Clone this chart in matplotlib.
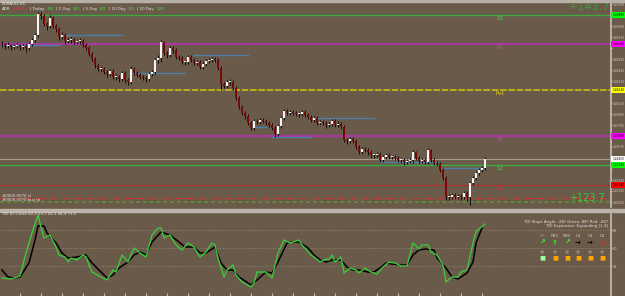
import numpy as np
import matplotlib.pyplot as plt
from matplotlib.patches import Rectangle
import matplotlib.transforms as mtransforms

# EURAUD H1 candles, prices in 0.0001 units
opens = [14661, 14660, 14658, 14659, 14657, 14658, 14659, 14657, 14658, 14656,
         14660, 14664, 14669, 14690, 14688, 14680, 14678, 14686, 14678, 14675,
         14667, 14669, 14663, 14664, 14664, 14662, 14663, 14663, 14659, 14656,
         14650, 14645, 14639, 14635, 14635, 14632, 14630, 14633, 14627, 14627,
         14625, 14631, 14624, 14622, 14635, 14631, 14629, 14627, 14626, 14625,
         14630, 14632, 14644, 14646, 14662, 14651, 14649, 14656, 14654, 14647,
         14646, 14642, 14642, 14647, 14644, 14641, 14642, 14637, 14640, 14643,
         14644, 14645, 14644, 14636, 14620, 14618, 14622, 14622, 14616, 14606,
         14597, 14591, 14588, 14581, 14576, 14583, 14582, 14584, 14583, 14581,
         14579, 14576, 14570, 14578, 14586, 14593, 14591, 14592, 14591, 14590,
         14590, 14592, 14589, 14587, 14584, 14586, 14581, 14582, 14581, 14579,
         14580, 14583, 14579, 14580, 14577, 14564, 14563, 14565, 14563, 14557,
         14552, 14555, 14554, 14552, 14549, 14549, 14550, 14544, 14547, 14549,
         14547, 14547, 14546, 14544, 14544, 14542, 14543, 14544, 14552, 14546,
         14543, 14544, 14542, 14554, 14544, 14541, 14540, 14534, 14526, 14507,
         14507, 14509, 14507, 14508, 14507, 14511, 14507, 14521, 14526, 14531,
         14534, 14536]
highs = [14663, 14661, 14662, 14660, 14660, 14661, 14660, 14660, 14660, 14662,
         14666, 14671, 14692, 14692, 14690, 14682, 14689, 14688, 14680, 14677,
         14672, 14671, 14666, 14667, 14666, 14665, 14666, 14665, 14661, 14658,
         14652, 14647, 14641, 14638, 14637, 14634, 14635, 14635, 14630, 14629,
         14633, 14633, 14626, 14638, 14637, 14633, 14631, 14629, 14628, 14632,
         14634, 14646, 14649, 14664, 14663, 14653, 14658, 14658, 14656, 14649,
         14648, 14644, 14649, 14649, 14646, 14644, 14644, 14642, 14645, 14646,
         14647, 14647, 14646, 14638, 14622, 14624, 14625, 14624, 14618, 14608,
         14599, 14593, 14590, 14583, 14585, 14585, 14586, 14586, 14585, 14583,
         14581, 14578, 14580, 14588, 14595, 14595, 14594, 14594, 14593, 14592,
         14594, 14594, 14591, 14589, 14588, 14588, 14584, 14584, 14583, 14582,
         14585, 14585, 14583, 14582, 14579, 14566, 14567, 14567, 14565, 14559,
         14557, 14557, 14556, 14554, 14551, 14552, 14552, 14549, 14551, 14551,
         14549, 14549, 14548, 14546, 14546, 14545, 14546, 14554, 14553, 14548,
         14546, 14546, 14556, 14555, 14546, 14543, 14542, 14536, 14528, 14510,
         14511, 14511, 14510, 14510, 14513, 14513, 14523, 14528, 14533, 14536,
         14538, 14547]
lows = [14657, 14655, 14656, 14654, 14655, 14656, 14654, 14655, 14652, 14654,
        14658, 14662, 14667, 14685, 14678, 14674, 14676, 14676, 14672, 14664,
        14665, 14660, 14661, 14661, 14660, 14660, 14660, 14657, 14654, 14648,
        14643, 14636, 14633, 14632, 14630, 14627, 14628, 14625, 14624, 14622,
        14623, 14621, 14619, 14620, 14629, 14627, 14625, 14624, 14622, 14623,
        14628, 14630, 14641, 14642, 14649, 14646, 14647, 14651, 14645, 14644,
        14640, 14639, 14640, 14642, 14639, 14639, 14635, 14635, 14638, 14641,
        14642, 14642, 14634, 14614, 14616, 14616, 14619, 14614, 14604, 14595,
        14589, 14585, 14579, 14574, 14574, 14580, 14580, 14581, 14579, 14577,
        14574, 14567, 14568, 14576, 14584, 14589, 14589, 14589, 14588, 14587,
        14588, 14587, 14585, 14582, 14582, 14579, 14579, 14579, 14576, 14577,
        14578, 14577, 14577, 14575, 14562, 14560, 14561, 14561, 14555, 14550,
        14550, 14552, 14549, 14546, 14546, 14547, 14542, 14542, 14545, 14545,
        14545, 14544, 14542, 14541, 14539, 14540, 14541, 14541, 14544, 14541,
        14541, 14540, 14540, 14542, 14539, 14538, 14532, 14524, 14504, 14504,
        14505, 14505, 14505, 14504, 14505, 14503, 14499, 14519, 14524, 14529,
        14532, 14534]
closes = [14660, 14658, 14659, 14657, 14658, 14659, 14657, 14658, 14656, 14660,
          14664, 14669, 14690, 14688, 14680, 14678, 14686, 14678, 14675, 14667,
          14669, 14663, 14664, 14664, 14662, 14663, 14663, 14659, 14656, 14650,
          14645, 14639, 14635, 14635, 14632, 14630, 14633, 14627, 14627, 14625,
          14631, 14624, 14622, 14635, 14631, 14629, 14627, 14626, 14625, 14630,
          14632, 14644, 14646, 14662, 14651, 14649, 14656, 14654, 14647, 14646,
          14642, 14642, 14647, 14644, 14641, 14642, 14637, 14640, 14643, 14644,
          14645, 14644, 14636, 14620, 14618, 14622, 14622, 14616, 14606, 14597,
          14591, 14588, 14581, 14576, 14583, 14582, 14584, 14583, 14581, 14579,
          14576, 14570, 14578, 14586, 14593, 14591, 14592, 14591, 14590, 14590,
          14592, 14589, 14587, 14584, 14586, 14581, 14582, 14581, 14579, 14580,
          14583, 14579, 14580, 14577, 14564, 14563, 14565, 14563, 14557, 14552,
          14555, 14554, 14552, 14549, 14549, 14550, 14544, 14547, 14549, 14547,
          14547, 14546, 14544, 14544, 14542, 14543, 14544, 14552, 14546, 14543,
          14544, 14542, 14554, 14544, 14541, 14540, 14534, 14526, 14507, 14507,
          14509, 14507, 14508, 14507, 14511, 14507, 14521, 14526, 14531, 14534,
          14536, 14545]

# pivot levels
level_names = ['R2', 'R1', 'Pvt', 'S1', 'S2', 'S3']
level_prices = [14689, 14660, 14614, 14568, 14539, 14519]
current_price = 14545
sl_price = 14506
tp_price = 14502

# short blue level segments: start bar, end bar, price
seg_start = [0, 21, 43, 64, 84, 90, 105, 126, 147]
seg_end = [19, 40, 61, 82, 88, 103, 124, 145, 160]
seg_price = [14659, 14669, 14631, 14649, 14577, 14567, 14586, 14542, 14536]

# TDI lines (bar, value)
green_bar = [0, 3, 6, 8, 10, 12, 13, 14, 16, 18, 19, 21, 22, 23, 25, 27, 28, 30, 33, 35,
             37, 38, 40, 42, 44, 46, 48, 50, 52, 53, 54, 56, 58, 60, 62, 64, 66, 68, 70, 71,
             72, 74, 75, 77, 78, 80, 83, 84, 85, 88, 90, 92, 94, 96, 99, 100, 103, 104, 106, 108,
             109, 110, 111, 113, 114, 116, 118, 119, 121, 123, 125, 127, 129, 131, 133, 135, 137, 139, 140, 142,
             143, 145, 147, 148, 150, 152, 153, 155, 157, 158, 159, 161]
green_val = [20, 19, 22, 45, 65, 83, 71, 60, 63, 51, 43, 41, 36, 40, 38, 43, 41, 26, 21, 18,
             28, 26, 43, 36, 50, 45, 41, 63, 70, 70, 60, 63, 53, 48, 55, 51, 41, 46, 55, 53,
             40, 21, 28, 33, 23, 16, 11, 15, 26, 26, 20, 45, 58, 55, 58, 53, 43, 41, 36, 39,
             38, 43, 36, 41, 25, 30, 28, 25, 30, 26, 24, 31, 36, 35, 32, 32, 55, 49, 53, 53,
             46, 43, 33, 16, 21, 21, 26, 28, 55, 66, 69, 74]
black_bar = [0, 2, 4, 6, 9, 11, 12, 14, 15, 18, 20, 22, 25, 28, 30, 33, 35, 37, 39, 42,
             44, 46, 48, 50, 53, 56, 59, 61, 64, 66, 68, 71, 73, 75, 77, 79, 83, 85, 88, 90,
             92, 95, 97, 99, 102, 104, 106, 108, 110, 113, 115, 117, 119, 122, 124, 126, 128, 130, 133, 135,
             137, 139, 141, 144, 145, 148, 150, 152, 153, 155, 157, 158, 160]
black_val = [28, 21, 20, 21, 35, 58, 72, 72, 65, 55, 45, 40, 41, 43, 35, 26, 20, 23, 30, 36,
             43, 46, 43, 56, 66, 63, 56, 51, 51, 45, 45, 51, 35, 28, 28, 21, 13, 18, 26, 25,
             36, 55, 56, 56, 50, 43, 38, 36, 38, 38, 31, 28, 28, 26, 26, 30, 35, 34, 33, 33,
             43, 48, 49, 48, 40, 30, 21, 19, 21, 25, 36, 55, 70]
tdi_levels = [68, 50, 32]

# ADR header pieces
adr_text = ['ADR', '325 8%', '| Today', '135', '| 1 Day', '163', '| 5 Day', '147',
            '| 10 Day', '131', '| 20 Day', '126']

BG = '#6a5a4a'
W, H = 625, 296

o = np.array(opens) / 1e4
h = np.array(highs) / 1e4
l = np.array(lows) / 1e4
c = np.array(closes) / 1e4
bars = np.arange(len(c))

fig = plt.figure(figsize=(W / 100, H / 100), dpi=100, facecolor=BG)
ax = fig.add_axes([0, 1 - 207 / H, 611 / W, 205 / H], facecolor=BG)
ax2 = fig.add_axes([0, 0, 611 / W, 84 / H], facecolor=BG)

# panel borders
fig.patches.append(Rectangle((0, 1 - 1.5 / H), 1, 1.5 / H, transform=fig.transFigure,
                             color='#b8b0a6', zorder=0))
fig.patches.append(Rectangle((0, 1 - 211.5 / H), 1, 3 / H, transform=fig.transFigure,
                             color='#bcb4aa', zorder=0))

# full-width levels
lvl_colors = ['#3caa3c', '#a8389e', '#c8bd10', '#a8389e', '#3caa3c', '#a83232']
lvl_widths = [1.0, 1.6, 1.2, 1.6, 1.0, 1.0]
lvl_styles = ['-', '-', (0, (4, 1)), '-', '-', '-']
for p, col, lw, ls in zip(level_prices, lvl_colors, lvl_widths, lvl_styles):
    ax.axhline(p / 1e4, color=col, lw=lw, ls=ls, zorder=1)
ax.axhline(current_price / 1e4, color='#a49c92', lw=0.8, zorder=1)
ax.axhline(sl_price / 1e4, color='#d83232', lw=1.0, ls=(0, (4, 2, 1, 2)), zorder=1)
ax.axhline(tp_price / 1e4, color='#5f8a3a', lw=1.4, ls=(0, (2, 1.5)), zorder=1)

for s, e, p in zip(seg_start, seg_end, seg_price):
    ax.plot([s, e], [p / 1e4, p / 1e4], color='#4f80aa', lw=1.0, zorder=2)

# candles
ax.vlines(bars, l, h, color='black', lw=0.6, zorder=3)
up = c >= o
body_h = np.maximum(np.abs(c - o), 0.00007)
ax.bar(bars, body_h, bottom=np.minimum(o, c), width=0.7,
       color=np.where(up, '#f4f4f4', '#7a0808'), linewidth=0, zorder=4)

# level labels
lbl_colors = ['#40d040', '#d040c8', '#e0d020', '#d040c8', '#40d040', '#e03030']
for name, p, col in zip(level_names, level_prices, lbl_colors):
    ax.text(166, p / 1e4 - 0.00008, name, color=col, fontsize=4, ha='center', va='top', zorder=5)

ax.text(0.999, 0.975, '+143.7', transform=ax.transAxes, color='#38a038', fontsize=8,
        ha='right', va='center')
ax.text(0.99, sl_price / 1e4 + 0.00004, '+123.7', color='#3cc83c', fontsize=7,
        transform=mtransforms.blended_transform_factory(ax.transAxes, ax.transData),
        ha='right', va='center')

# right price axis, tick labels hidden under the level boxes are dropped
box_prices = level_prices + [current_price]
ax.set_xlim(-0.667, 203)
ax.set_ylim(1.4497, 1.4702)
ax.set_xticks([])
ax.yaxis.tick_right()
yt = np.arange(0, 19) * -0.0011 + 1.4700
ax.set_yticks(yt)
ax.set_yticklabels(['' if min(abs(v * 1e4 - b) for b in box_prices) < 5 else '%.5f' % v
                    for v in yt])
ax.tick_params(axis='y', labelsize=2.1, colors='#d8d0c8', length=1, pad=0.5)
for sp in ['top', 'left', 'bottom']:
    ax.spines[sp].set_visible(False)
ax.spines['right'].set_color('#c8c0b6')
ax.spines['right'].set_linewidth(1.2)

box_colors = ['#00ff00', '#ff00ff', '#ffff00', '#ff00ff', '#00ff00', '#ff0000']
btr = mtransforms.blended_transform_factory(ax.transAxes, ax.transData)
for p, col in zip(level_prices, box_colors):
    ax.text(1.002, p / 1e4, '%.5f' % (p / 1e4), transform=btr, fontsize=2.1, color='black',
            va='center', ha='left', clip_on=False,
            bbox=dict(boxstyle='square,pad=0.3', fc=col, ec='none'))
ax.text(1.002, current_price / 1e4, '%.5f' % (current_price / 1e4), transform=btr,
        fontsize=2.1, color='black', va='center', ha='left', clip_on=False,
        bbox=dict(boxstyle='square,pad=0.3', fc='white', ec='none'))

# header texts: ADR pieces chained one after another
fig.text(2 / W, 1 - 4 / H, 'EURAUD,H1', color='#e8e8e8', fontsize=3, va='center')
adr_colors = ['#e8e8e8', '#ff3030'] + ['#e8e8e8', '#40e040'] * 5
prev = fig.text(2 / W, 1 - 9 / H, adr_text[0], color=adr_colors[0], fontsize=2.9,
                va='center')
for t, col in zip(adr_text[1:], adr_colors[1:]):
    prev = ax.annotate(t, xy=(1, 0.5), xycoords=prev, xytext=(1.6, 0),
                       textcoords='offset points', color=col, fontsize=2.9,
                       va='center', ha='left', annotation_clip=False)
fig.text(2 / W, 1 - 196 / H, '#0000.0070 sl', color='#e8e8e8', fontsize=2.8, va='center')
fig.text(2 / W, 1 - 199.5 / H, '#0000.0070 buy tp', color='#e8e8e8', fontsize=2.8, va='center')

# TDI panel
for lv in tdi_levels:
    ax2.axhline(lv, color='#9c907e', lw=0.6, ls=(0, (1, 2)))
ax2.plot(black_bar, black_val, color='black', lw=1.1)
ax2.plot(green_bar, green_val, color='#3cc83c', lw=1.0)
ax2.set_xlim(-0.667, 203)
ax2.set_ylim(2, 86)
ax2.yaxis.tick_right()
ax2.set_yticks(tdi_levels)
ax2.set_yticklabels(['68', '50', '32'])
ax2.tick_params(axis='y', labelsize=2.5, colors='#d8d0c8', length=1, pad=0.5)
ax2.set_xticks(np.arange(6, 162, 7))
ax2.tick_params(axis='x', length=2, colors='#c8c0b6', labelbottom=False, direction='in')
for sp in ['top', 'left', 'bottom']:
    ax2.spines[sp].set_visible(False)
ax2.spines['right'].set_color('#c8c0b6')
ax2.spines['right'].set_linewidth(1.2)

fig.text(2 / W, 1 - 214 / H, 'TDI 47-Close 60.3 53.7 45.1 68.9 73.5', color='#e8e8e8',
         fontsize=2.8, va='center')
fig.text(608 / W, 1 - 222 / H, 'TDI Slope Angle: -28? Green: 88? Red: -80?', color='#e0e0e0',
         fontsize=2.8, ha='right', va='center')
fig.text(608 / W, 1 - 226 / H, 'TDI Expansion: Expanding [3.4]', color='#e0e0e0',
         fontsize=2.8, ha='right', va='center')

tf_names = ['M5', 'M15', 'M30', 'H1', 'H4', 'D1']
tf_x = [542, 555, 567, 578, 590, 602]
tf_arrows = ['\u2197', '\u2191', '\u2197', '\u2192', '\u2192', '\u2198']
arrow_colors = ['#30ff30', '#30ff30', '#30ff30', 'black', 'black', '#ff2020']
square_colors = ['#a0ffa0', '#ffa500', '#ffa500', '#ffa500', '#ffa500', '#ffa500']
for i, (name, xp) in enumerate(zip(tf_names, tf_x)):
    fig.text(xp / W, 1 - 236 / H, name, color='#8c8276' if i == 0 else '#cfc7bc',
             fontsize=2.8, ha='center', va='center')
    fig.text(xp / W, 1 - 243 / H, tf_arrows[i], color=arrow_colors[i], fontsize=5,
             fontweight='bold', ha='center', va='center')
    fig.text(xp / W, 1 - 251 / H, '\u25cf', color='#8a8074', fontsize=3.5,
             ha='center', va='center')
    fig.text(xp / W, 1 - 258 / H, '\u25a0', color=square_colors[i], fontsize=4.5,
             ha='center', va='center')

fig.savefig('out.png', dpi=100, facecolor=BG)
